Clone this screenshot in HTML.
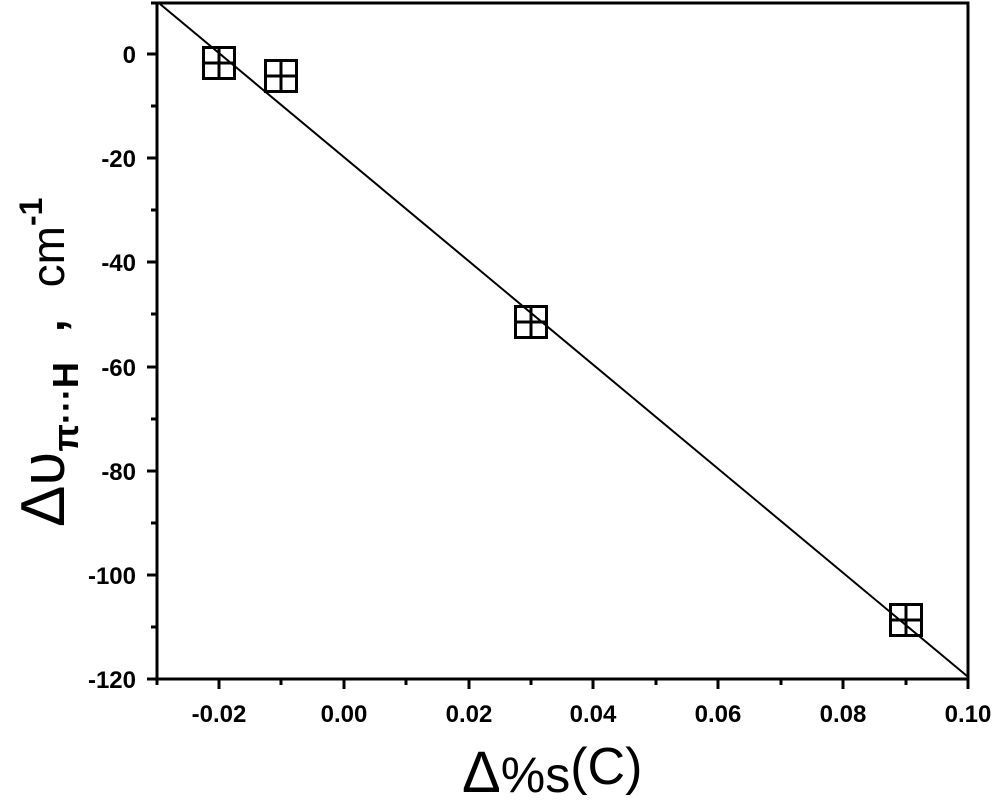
<!DOCTYPE html>
<html><head><style>body{margin:0;background:#fff}</style></head><body>
<svg width="1000" height="797" xmlns="http://www.w3.org/2000/svg" font-family="Liberation Sans, sans-serif">
<rect width="1000" height="797" fill="#fff"/>
<g stroke="#000" stroke-width="3" fill="none">
<rect x="157" y="3" width="811" height="676"/>
</g>
<g stroke="#000" stroke-width="3">
<line x1="219" y1="679" x2="219" y2="689"/>
<line x1="344" y1="679" x2="344" y2="689"/>
<line x1="469" y1="679" x2="469" y2="689"/>
<line x1="593" y1="679" x2="593" y2="689"/>
<line x1="718" y1="679" x2="718" y2="689"/>
<line x1="843" y1="679" x2="843" y2="689"/>
<line x1="968" y1="679" x2="968" y2="689"/>
<line x1="157" y1="679" x2="157" y2="685"/>
<line x1="281" y1="679" x2="281" y2="685"/>
<line x1="406" y1="679" x2="406" y2="685"/>
<line x1="531" y1="679" x2="531" y2="685"/>
<line x1="656" y1="679" x2="656" y2="685"/>
<line x1="781" y1="679" x2="781" y2="685"/>
<line x1="906" y1="679" x2="906" y2="685"/>
<line x1="147" y1="54" x2="157" y2="54"/>
<line x1="147" y1="158" x2="157" y2="158"/>
<line x1="147" y1="262" x2="157" y2="262"/>
<line x1="147" y1="367" x2="157" y2="367"/>
<line x1="147" y1="471" x2="157" y2="471"/>
<line x1="147" y1="575" x2="157" y2="575"/>
<line x1="147" y1="679" x2="157" y2="679"/>
<line x1="151" y1="106" x2="157" y2="106"/>
<line x1="151" y1="210" x2="157" y2="210"/>
<line x1="151" y1="314" x2="157" y2="314"/>
<line x1="151" y1="419" x2="157" y2="419"/>
<line x1="151" y1="523" x2="157" y2="523"/>
<line x1="151" y1="627" x2="157" y2="627"/>
<line x1="151" y1="3" x2="157" y2="3"/>
</g>
<g font-size="24" font-weight="bold" text-anchor="end">
<text x="136" y="63">0</text>
<text x="136" y="167">-20</text>
<text x="136" y="271">-40</text>
<text x="136" y="376">-60</text>
<text x="136" y="480">-80</text>
<text x="136" y="584">-100</text>
<text x="136" y="688">-120</text>
</g>
<g font-size="24" font-weight="bold" text-anchor="middle">
<text x="219" y="722">-0.02</text>
<text x="344" y="722">0.00</text>
<text x="469" y="722">0.02</text>
<text x="593" y="722">0.04</text>
<text x="718" y="722">0.06</text>
<text x="843" y="722">0.08</text>
<text x="968" y="722">0.10</text>
</g>
<line x1="160" y1="4" x2="967" y2="676" stroke="#000" stroke-width="2"/>
<g stroke="#000" stroke-width="3" fill="none">
<g transform="translate(219,63)"><rect x="-15.5" y="-15.5" width="31" height="31"/><line x1="0" y1="-15" x2="0" y2="15"/><line x1="-15" y1="0" x2="15" y2="0"/></g>
<g transform="translate(281,76)"><rect x="-15.5" y="-15.5" width="31" height="31"/><line x1="0" y1="-15" x2="0" y2="15"/><line x1="-15" y1="0" x2="15" y2="0"/></g>
<g transform="translate(531,322)"><rect x="-15.5" y="-15.5" width="31" height="31"/><line x1="0" y1="-15" x2="0" y2="15"/><line x1="-15" y1="0" x2="15" y2="0"/></g>
<g transform="translate(906,620)"><rect x="-15.5" y="-15.5" width="31" height="31"/><line x1="0" y1="-15" x2="0" y2="15"/><line x1="-15" y1="0" x2="15" y2="0"/></g>
</g>
<text transform="translate(64,527) rotate(-90)" font-size="62"><tspan>Δυ</tspan><tspan font-size="36" font-weight="bold" dy="14">π···H</tspan><tspan dy="-14" dx="30" font-size="46" font-weight="bold">,</tspan><tspan font-size="46" dx="32">cm</tspan><tspan font-size="32" font-weight="bold" dy="-22">-1</tspan></text>
<text x="462" y="792" font-size="58">Δ<tspan font-size="50">%s</tspan><tspan font-size="52" dy="-8">(C)</tspan></text>
</svg>
</body></html>
